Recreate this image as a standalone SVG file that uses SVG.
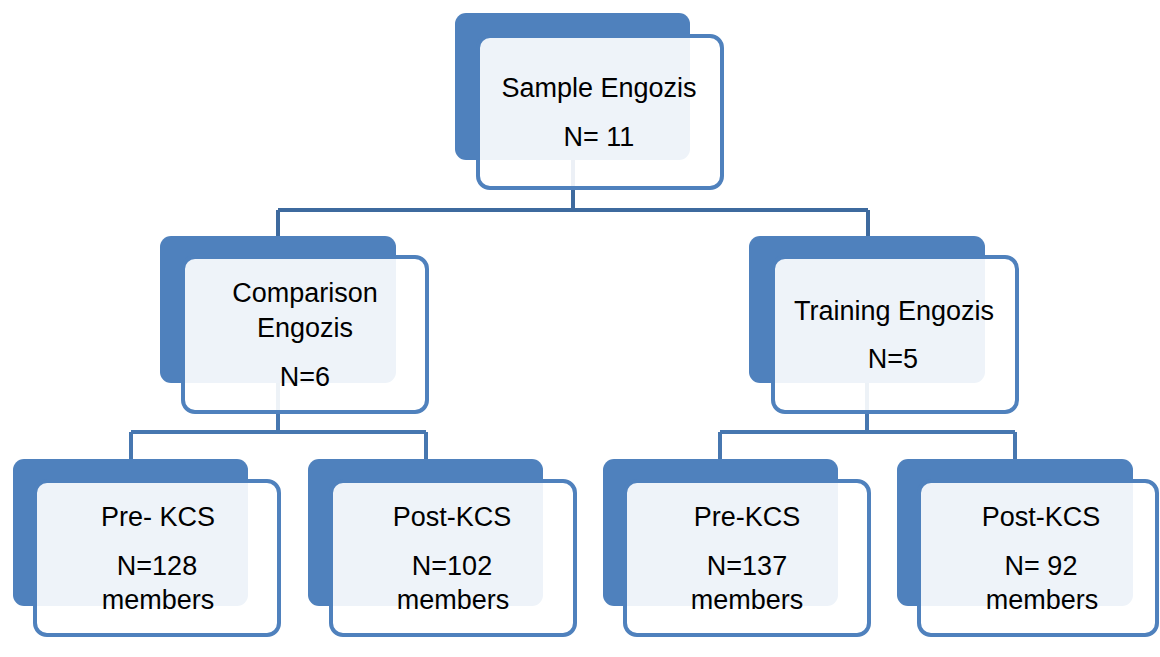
<svg xmlns="http://www.w3.org/2000/svg" width="1160" height="657" viewBox="0 0 1160 657">
<style>
.back{fill:#4f81bd}
.front{fill:#ffffff;fill-opacity:0.9;stroke:#4f81bd;stroke-width:4}
.conn{fill:none;stroke:#4777b0;stroke-width:4}
.conn-top{fill:none;stroke:#3e6a9e;stroke-width:4}
text{font-family:"Liberation Sans",Arial,sans-serif;font-size:27px;fill:#000;text-anchor:middle}
</style>
<rect width="1160" height="657" fill="#ffffff"/>
<g id="connectors">
<path class="conn-top" d="M573 160 V210 M278 210 H868 M278 210 V236 M868 210 V236"/>
<path class="conn" d="M278 383 V432 M131 432 H426 M131 432 V459 M426 432 V459"/>
<path class="conn" d="M867 383 V432 M720 432 H1015 M720 432 V459 M1015 432 V459"/>
</g>
<g id="node-sample">
<rect class="back" x="455" y="13" width="235" height="147" rx="11"/>
<rect class="front" x="478" y="36" width="244" height="152" rx="12"/>
<text x="599" y="97">Sample Engozis</text>
<text x="599" y="146">N= 11</text>
</g>
<g id="node-comparison">
<rect class="back" x="160" y="236" width="236" height="147" rx="11"/>
<rect class="front" x="183" y="257" width="244" height="155" rx="12"/>
<text x="305" y="302">Comparison</text>
<text x="305" y="337">Engozis</text>
<text x="305" y="386">N=6</text>
</g>
<g id="node-training">
<rect class="back" x="749" y="236" width="236" height="147" rx="11"/>
<rect class="front" x="773" y="257" width="244" height="155" rx="12"/>
<text x="894" y="320">Training Engozis</text>
<text x="893" y="368">N=5</text>
</g>
<g id="node-comp-pre">
<rect class="back" x="13" y="459" width="235" height="147" rx="11"/>
<rect class="front" x="35" y="481" width="244" height="154" rx="12"/>
<text x="158" y="526">Pre- KCS</text>
<text x="157" y="575">N=128</text>
<text x="158" y="609">members</text>
</g>
<g id="node-comp-post">
<rect class="back" x="308" y="459" width="235" height="147" rx="11"/>
<rect class="front" x="331" y="481" width="244" height="154" rx="12"/>
<text x="452" y="526">Post-KCS</text>
<text x="452" y="575">N=102</text>
<text x="453" y="609">members</text>
</g>
<g id="node-train-pre">
<rect class="back" x="603" y="459" width="235" height="147" rx="11"/>
<rect class="front" x="625" y="481" width="244" height="154" rx="12"/>
<text x="747" y="526">Pre-KCS</text>
<text x="747" y="575">N=137</text>
<text x="747" y="609">members</text>
</g>
<g id="node-train-post">
<rect class="back" x="897" y="459" width="236" height="147" rx="11"/>
<rect class="front" x="919" y="481" width="238" height="154" rx="12"/>
<text x="1041" y="526">Post-KCS</text>
<text x="1041" y="575">N= 92</text>
<text x="1042" y="609">members</text>
</g>
</svg>
